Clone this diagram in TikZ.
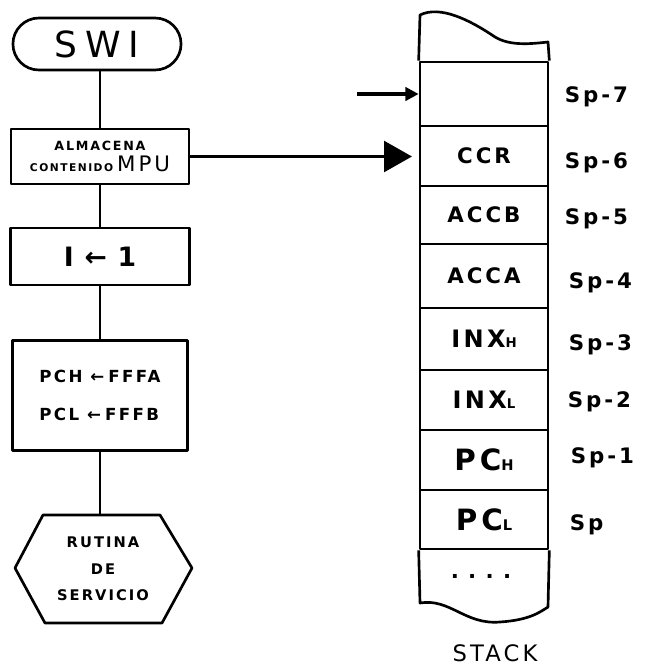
\documentclass[tikz,border=0pt]{standalone}
\usepackage{fontspec}
\setmainfont{DejaVu Sans}
\newfontfamily\hand[LetterSpace=14]{DejaVu Sans}
\newfontfamily\handb[LetterSpace=14]{DejaVu Sans Bold}
\usetikzlibrary{shapes.misc,arrows.meta}
\newcommand\fsz[1]{\fontsize{#1}{#1}\selectfont}
\begin{document}
\begin{tikzpicture}[x=0.75pt,y=-0.75pt,line width=2pt,line join=round,
  box/.style={draw,rectangle,inner sep=0pt},
  cell/.style={draw,rectangle,minimum width=96pt,minimum height=#1*0.75pt,inner sep=0pt},
  lab/.style={anchor=west,font=\handb\fsz{16}},
  small/.style={font=\handb\fsz{#1},align=center}]
\useasboundingbox (0,0) rectangle (645,665);
% left flowchart
\node[draw,rounded rectangle,minimum width=132.75pt,minimum height=39pt,font=\fsz{27}] (swi) at (97,44) {S\hspace{6pt}W\hspace{6pt}I};
\node[box,minimum width=133.5pt,minimum height=41.25pt,align=center] (alm) at (100,156.5)
  {{\handb\fsz{9.5}ALMACENA}\\[4pt]{\handb\fsz{8}CONTENIDO}\hspace{3pt}{\hand\fsz{16}MPU}};
\node[box,minimum width=134.25pt,minimum height=42.75pt,font=\handb\fsz{20}] (int) at (100,256.5) {I\hspace{8pt}←\hspace{8pt}1};
\node[box,minimum width=131.25pt,minimum height=82.5pt,align=left,font=\handb\fsz{12.5}] (pc) at (100,395.5)
  {PCH\hspace{6pt}←\hspace{3pt}FFFA\\[16pt]PCL\hspace{6pt}←\hspace{3pt}FFFB};
\draw (43,515) -- (160,515) -- (192,568) -- (162,623) -- (45,623) -- (15,568) -- cycle;
\coordinate (hexN) at (100,515);
\node[small=11] (rut) at (103,569) {RUTINA\\[9pt]DE\\[9pt]SERVICIO};
\draw (swi.south -| alm.north) -- (alm.north);
\draw (alm.south) -- (int.north);
\draw (int.south) -- (pc.north);
\draw (pc.south) -- (hexN);
% stack
\node[cell=64] (c7) at (484,94) {};
\node[cell=60,font=\handb\fsz{16}] (c6) at (484,156) {CCR};
\node[cell=58,font=\handb\fsz{16}] (c5) at (484,215) {ACCB};
\node[cell=64,font=\handb\fsz{16}] (c4) at (484,276) {ACCA};
\node[cell=62,font=\handb\fsz{18}] (c3) at (484,339) {INX{\fsz{10}H}};
\node[cell=60,font=\handb\fsz{18}] (c2) at (484,400) {INX{\fsz{10}L}};
\node[cell=60,font=\handb\fsz{22}] (c1) at (484,460) {PC{\fsz{11}H}};
\node[cell=59,font=\handb\fsz{22}] (c0) at (484,519.5) {PC{\fsz{11}L}};
\draw (c7.north west) -- (420,15) .. controls (440,5) and (470,20) .. (495,37)
  .. controls (510,46) and (530,44) .. (548,42) -- (c7.north east);
\draw (c0.south west) -- (420,603) .. controls (450,598) and (465,625) .. (500,622)
  .. controls (530,620) and (540,612) .. (548,607) -- (c0.south east);
\node[font=\fsz{16}\bfseries] (dots) at (481,576) {.\hspace{7pt}.\hspace{7pt}.\hspace{7pt}.};
\node[font=\hand\fsz{17}] (stk) at (495,653) {STACK};
% labels
\node[lab] (s7) at (559,97) {Sp-7};
\node[lab] (s6) at (559,163) {Sp-6};
\node[lab] (s5) at (559,219) {Sp-5};
\node[lab] (s4) at (563,283) {Sp-4};
\node[lab] (s3) at (563,345) {Sp-3};
\node[lab] (s2) at (562,402) {Sp-2};
\node[lab] (s1) at (565,458) {Sp-1};
\node[lab] (s0) at (564,525) {Sp};
% arrows
\coordinate (sa) at (357,94);
\draw[line width=2.6pt,-{Triangle[length=10pt,width=10pt]}] (sa) -- (c7.west);
\draw[line width=2.8pt,-{Triangle[length=21pt,width=23pt]}] (alm.east) -- ([xshift=-5pt]alm.east -| c6.west);
\end{tikzpicture}
\end{document}
